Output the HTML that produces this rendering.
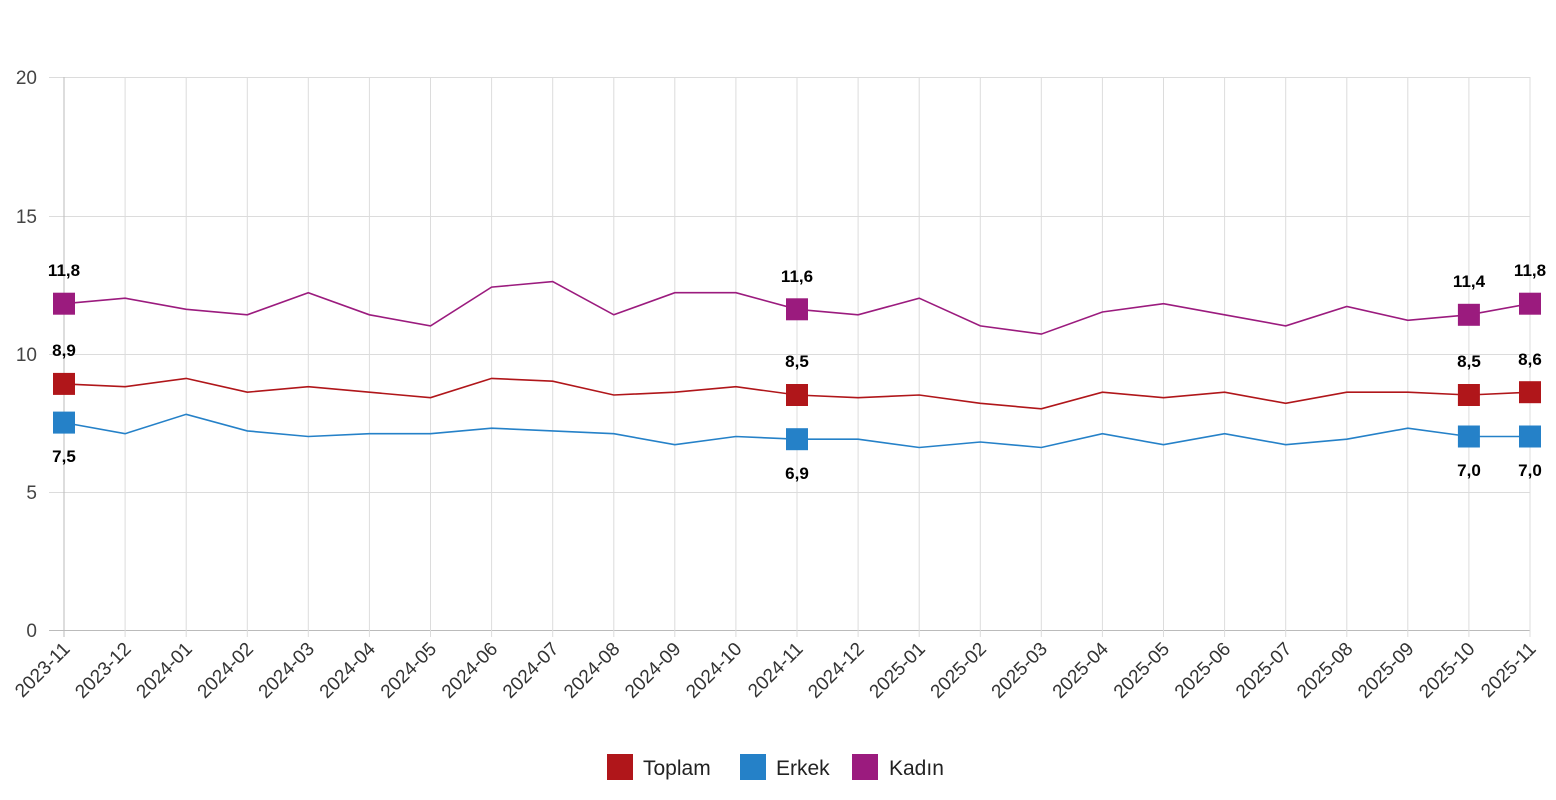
<!DOCTYPE html>
<html><head><meta charset="utf-8"><style>
body{margin:0;background:#fff;}
svg{display:block;font-family:"Liberation Sans",sans-serif;}
</style></head><body>
<svg width="1556" height="800" viewBox="0 0 1556 800">
<g stroke="#dcdcdc" stroke-width="1">
<line x1="49" y1="77.5" x2="1530" y2="77.5"/><line x1="49" y1="216.5" x2="1530" y2="216.5"/><line x1="49" y1="354.5" x2="1530" y2="354.5"/><line x1="49" y1="492.5" x2="1530" y2="492.5"/><line x1="49" y1="630.5" x2="1530" y2="630.5" stroke="#bbb"/>
<line x1="125.1" y1="77" x2="125.1" y2="637"/><line x1="186.2" y1="77" x2="186.2" y2="637"/><line x1="247.3" y1="77" x2="247.3" y2="637"/><line x1="308.3" y1="77" x2="308.3" y2="637"/><line x1="369.4" y1="77" x2="369.4" y2="637"/><line x1="430.5" y1="77" x2="430.5" y2="637"/><line x1="491.6" y1="77" x2="491.6" y2="637"/><line x1="552.7" y1="77" x2="552.7" y2="637"/><line x1="613.8" y1="77" x2="613.8" y2="637"/><line x1="674.8" y1="77" x2="674.8" y2="637"/><line x1="735.9" y1="77" x2="735.9" y2="637"/><line x1="797" y1="77" x2="797" y2="637"/><line x1="858.1" y1="77" x2="858.1" y2="637"/><line x1="919.2" y1="77" x2="919.2" y2="637"/><line x1="980.3" y1="77" x2="980.3" y2="637"/><line x1="1041.3" y1="77" x2="1041.3" y2="637"/><line x1="1102.4" y1="77" x2="1102.4" y2="637"/><line x1="1163.5" y1="77" x2="1163.5" y2="637"/><line x1="1224.6" y1="77" x2="1224.6" y2="637"/><line x1="1285.7" y1="77" x2="1285.7" y2="637"/><line x1="1346.8" y1="77" x2="1346.8" y2="637"/><line x1="1407.8" y1="77" x2="1407.8" y2="637"/><line x1="1468.9" y1="77" x2="1468.9" y2="637"/><line x1="1530" y1="77" x2="1530" y2="637"/>
</g>
<line x1="64" y1="77" x2="64" y2="637" stroke="#bbb"/>
<g fill="#444" font-size="19" text-anchor="end">
<text x="37" y="84">20</text><text x="37" y="223">15</text><text x="37" y="361">10</text><text x="37" y="499">5</text><text x="37" y="637">0</text>
</g>
<polyline fill="none" stroke="#9b1b7e" stroke-width="1.6" points="64,303.7 125.1,298.2 186.2,309.3 247.3,314.8 308.3,292.7 369.4,314.8 430.5,325.9 491.6,287.1 552.7,281.6 613.8,314.8 674.8,292.7 735.9,292.7 797,309.3 858.1,314.8 919.2,298.2 980.3,325.9 1041.3,334.1 1102.4,312 1163.5,303.7 1224.6,314.8 1285.7,325.9 1346.8,306.5 1407.8,320.3 1468.9,314.8 1530,303.7"/>
<polyline fill="none" stroke="#b0161a" stroke-width="1.6" points="64,383.9 125.1,386.7 186.2,378.4 247.3,392.2 308.3,386.7 369.4,392.2 430.5,397.7 491.6,378.4 552.7,381.2 613.8,395 674.8,392.2 735.9,386.7 797,395 858.1,397.7 919.2,395 980.3,403.3 1041.3,408.8 1102.4,392.2 1163.5,397.7 1224.6,392.2 1285.7,403.3 1346.8,392.2 1407.8,392.2 1468.9,395 1530,392.2"/>
<polyline fill="none" stroke="#2581c8" stroke-width="1.6" points="64,422.6 125.1,433.7 186.2,414.3 247.3,430.9 308.3,436.5 369.4,433.7 430.5,433.7 491.6,428.2 552.7,430.9 613.8,433.7 674.8,444.7 735.9,436.5 797,439.2 858.1,439.2 919.2,447.5 980.3,442 1041.3,447.5 1102.4,433.7 1163.5,444.7 1224.6,433.7 1285.7,444.7 1346.8,439.2 1407.8,428.2 1468.9,436.5 1530,436.5"/>
<g fill="#9b1b7e"><rect x="53" y="292.7" width="22" height="22"/><rect x="786" y="298.3" width="22" height="22"/><rect x="1457.9" y="303.8" width="22" height="22"/><rect x="1519" y="292.7" width="22" height="22"/></g>
<g fill="#b0161a"><rect x="53" y="372.9" width="22" height="22"/><rect x="786" y="384" width="22" height="22"/><rect x="1457.9" y="384" width="22" height="22"/><rect x="1519" y="381.2" width="22" height="22"/></g>
<g fill="#2581c8"><rect x="53" y="411.6" width="22" height="22"/><rect x="786" y="428.2" width="22" height="22"/><rect x="1457.9" y="425.5" width="22" height="22"/><rect x="1519" y="425.5" width="22" height="22"/></g>
<g font-size="17" font-weight="bold" fill="#000" text-anchor="middle">
<text x="64" y="276">11,8</text><text x="797" y="282">11,6</text><text x="1469" y="287">11,4</text><text x="1530" y="276">11,8</text>
<text x="64" y="356">8,9</text><text x="797" y="367">8,5</text><text x="1469" y="367">8,5</text><text x="1530" y="365">8,6</text>
<text x="64" y="462">7,5</text><text x="797" y="479">6,9</text><text x="1469" y="476">7,0</text><text x="1530" y="476">7,0</text>
</g>
<g font-size="19" fill="#333" text-anchor="end">
<text transform="translate(71,650) rotate(-45)">2023-11</text><text transform="translate(132.1,650) rotate(-45)">2023-12</text><text transform="translate(193.2,650) rotate(-45)">2024-01</text><text transform="translate(254.3,650) rotate(-45)">2024-02</text><text transform="translate(315.3,650) rotate(-45)">2024-03</text><text transform="translate(376.4,650) rotate(-45)">2024-04</text><text transform="translate(437.5,650) rotate(-45)">2024-05</text><text transform="translate(498.6,650) rotate(-45)">2024-06</text><text transform="translate(559.7,650) rotate(-45)">2024-07</text><text transform="translate(620.8,650) rotate(-45)">2024-08</text><text transform="translate(681.8,650) rotate(-45)">2024-09</text><text transform="translate(742.9,650) rotate(-45)">2024-10</text><text transform="translate(804,650) rotate(-45)">2024-11</text><text transform="translate(865.1,650) rotate(-45)">2024-12</text><text transform="translate(926.2,650) rotate(-45)">2025-01</text><text transform="translate(987.3,650) rotate(-45)">2025-02</text><text transform="translate(1048.3,650) rotate(-45)">2025-03</text><text transform="translate(1109.4,650) rotate(-45)">2025-04</text><text transform="translate(1170.5,650) rotate(-45)">2025-05</text><text transform="translate(1231.6,650) rotate(-45)">2025-06</text><text transform="translate(1292.7,650) rotate(-45)">2025-07</text><text transform="translate(1353.8,650) rotate(-45)">2025-08</text><text transform="translate(1414.8,650) rotate(-45)">2025-09</text><text transform="translate(1475.9,650) rotate(-45)">2025-10</text><text transform="translate(1537,650) rotate(-45)">2025-11</text>
</g>
<rect x="607" y="754" width="26" height="26" fill="#b0161a"/><text x="643" y="775" font-size="21" fill="#222">Toplam</text>
<rect x="740" y="754" width="26" height="26" fill="#2581c8"/><text x="776" y="775" font-size="21" fill="#222">Erkek</text>
<rect x="852" y="754" width="26" height="26" fill="#9b1b7e"/><text x="889" y="775" font-size="21" fill="#222">Kadın</text>
</svg>
</body></html>
